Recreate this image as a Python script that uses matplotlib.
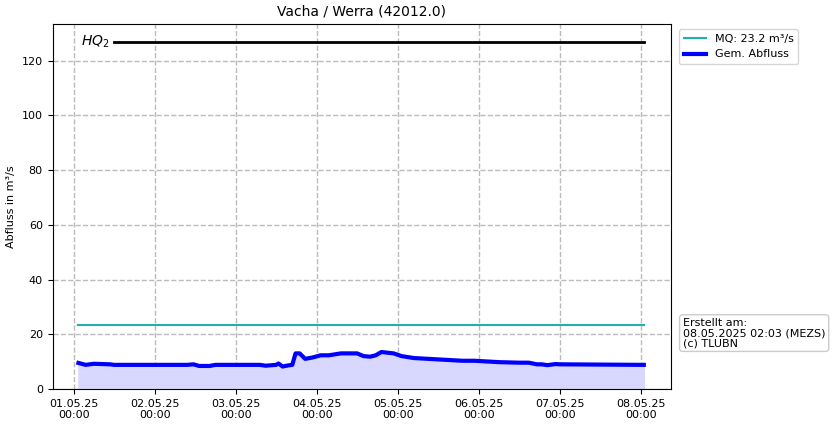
import numpy as np
import matplotlib.pyplot as plt
import matplotlib.dates as mdates
from datetime import datetime, timedelta

start = datetime(2025, 5, 1)
# (Tage ab 01.05.25 00:00, Abfluss m³/s)
tage = [0.06, 0.15, 0.25, 0.45, 0.5, 1.0, 1.4, 1.48, 1.55, 1.68, 1.75, 2.0, 2.3, 2.37,
        2.5, 2.53, 2.58, 2.65, 2.7, 2.74, 2.79, 2.86, 2.95, 3.05, 3.15, 3.3, 3.4, 3.5, 3.58,
        3.66, 3.73, 3.8, 3.95, 4.05, 4.2, 4.8, 4.95, 5.25, 5.5, 5.62, 5.72, 5.78, 5.85,
        5.95, 6.0, 7.04]
abfluss = [9.5, 8.8, 9.2, 9.0, 8.8, 8.8, 8.8, 9.0, 8.4, 8.4, 8.8, 8.8, 8.8, 8.5,
           8.8, 9.3, 8.2, 8.6, 8.8, 13.0, 13.0, 11.0, 11.5, 12.3, 12.3, 13.0, 13.0, 13.0, 12.0,
           11.8, 12.3, 13.5, 13.0, 12.0, 11.3, 10.3, 10.3, 9.8, 9.6, 9.6, 9.0, 9.0,
           8.7, 9.1, 9.0, 8.8]
mq = 23.2
hq2 = 127
zeiten = [start + timedelta(days=d) for d in tage]

fig = plt.figure(figsize=(8.34, 4.26), dpi=100)
ax = fig.add_axes([0.063, 0.087, 0.741, 0.857])

ax.fill_between(zeiten, abfluss, 0, color='#d8d8ff')
ax.plot([zeiten[0], zeiten[-1]], [mq, mq], color='#20b2aa', lw=1.5, label='MQ: 23.2 m³/s')
ax.plot(zeiten, abfluss, color='blue', lw=3, label='Gem. Abfluss')
ax.plot([start + timedelta(days=0.5), zeiten[-1]], [hq2, hq2], color='black', lw=2)
ax.text(start + timedelta(days=0.09), hq2, '$HQ_2$', fontsize=10, va='center')

ax.set_xlim(start - timedelta(days=0.26), start + timedelta(days=7.37))
ax.set_ylim(0, 133.5)
ax.xaxis.set_major_locator(mdates.DayLocator())
ax.xaxis.set_major_formatter(mdates.DateFormatter('%d.%m.%y\n%H:%M'))
ax.grid(True, ls='--', color='#bbbbbb', lw=1)
ax.set_axisbelow(True)
ax.set_title('Vacha / Werra (42012.0)', fontsize=10)
ax.set_ylabel('Abfluss in m³/s', fontsize=8)
ax.tick_params(labelsize=8)
ax.legend(loc='upper left', bbox_to_anchor=(1.005, 1.0), fontsize=8)
ax.text(1.02, 0.153, 'Erstellt am:\n08.05.2025 02:03 (MEZS)\n(c) TLUBN',
        transform=ax.transAxes, fontsize=8, va='center', linespacing=1.0,
        bbox=dict(boxstyle='round', fc='white', ec='#cccccc'))

fig.savefig('out.png', dpi=100)
